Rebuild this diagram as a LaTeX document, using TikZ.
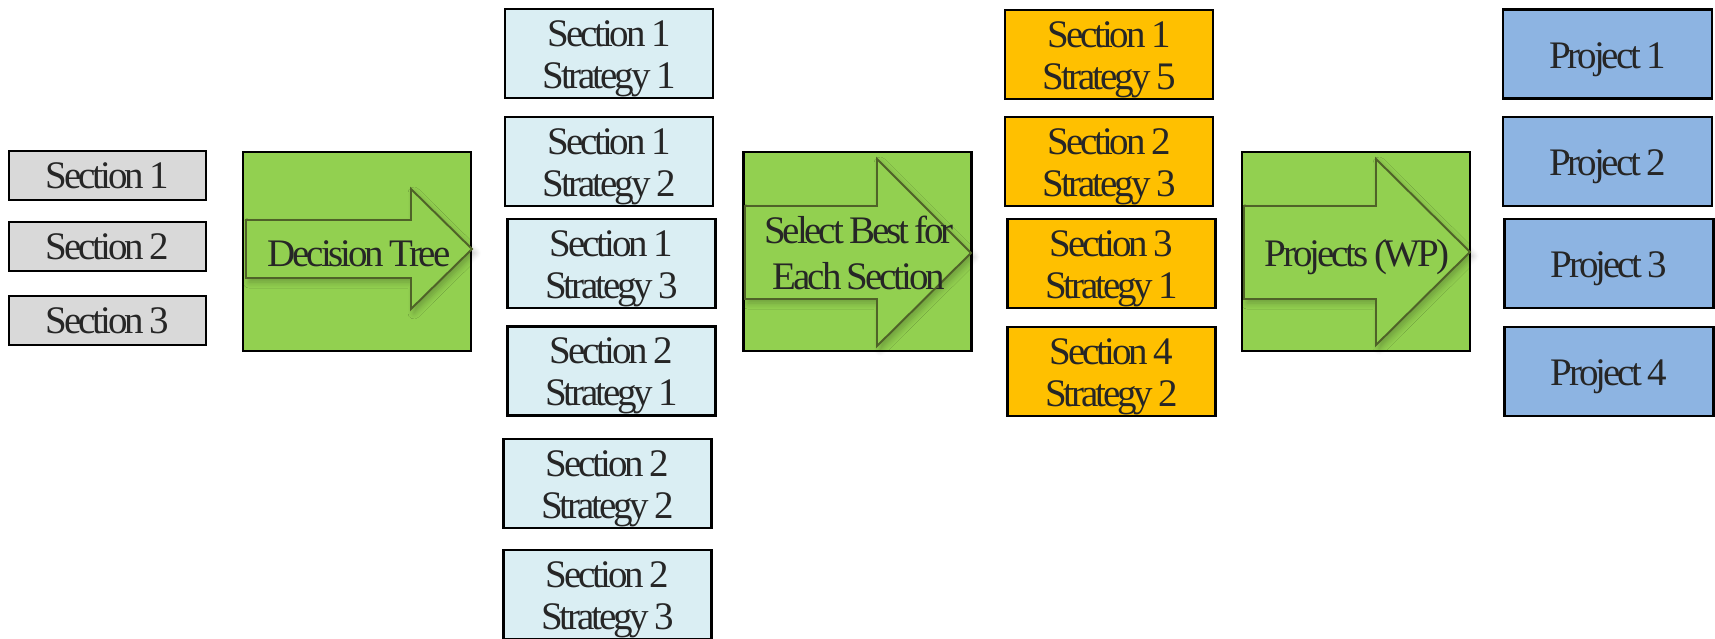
\documentclass[tikz,border=0pt]{standalone}
\usepackage{fontspec}
\setmainfont{Liberation Serif}[LetterSpace=-8, WordSpace=0.8]
\usepackage{tikz}
\usetikzlibrary{shadows.blur}

\definecolor{secgray}{HTML}{D9D9D9}
\definecolor{stratblue}{HTML}{DAEEF3}
\definecolor{bestorange}{HTML}{FFC000}
\definecolor{projblue}{HTML}{8DB4E2}
\definecolor{stepgreen}{HTML}{92D050}
\definecolor{arrowdark}{HTML}{4F6228}
\definecolor{inkgray}{HTML}{262626}

\newcommand{\twoline}[2]{\rule{0pt}{0.36cm}#1\\#2}

\begin{document}
\begin{tikzpicture}[
    font=\fontsize{11.1}{12}\selectfont, text=inkgray,
    box/.style={draw=black, line width=0.6pt, inner sep=0pt, align=center},
    secbox/.style={box, fill=secgray, minimum width=1.97cm, minimum height=0.49cm},
    stratbox/.style={box, fill=stratblue, minimum width=2.08cm, minimum height=0.89cm},
    bestbox/.style={box, fill=bestorange, minimum width=2.08cm, minimum height=0.89cm},
    projbox/.style={box, fill=projblue, minimum width=2.09cm, minimum height=0.89cm,
        text height=0.28cm, text depth=0pt},
    greenbox/.style={box, fill=stepgreen, minimum width=2.28cm, minimum height=1.99cm},
    barrow/.style={fill=stepgreen, draw=arrowdark, line width=0.55pt, line join=miter,
        blur shadow={shadow xshift=0.3mm, shadow yshift=-0.4mm, shadow blur steps=6,
        shadow blur radius=0.6mm, shadow opacity=25}}
]
        \useasboundingbox (0, 0) rectangle (17.15, -6.38);

        % input sections
        \draw (1.075, -1.755) node[secbox] (sec1) {Section 1};
        \draw (1.075, -2.465) node[secbox] (sec2) {Section 2};
        \draw (1.075, -3.205) node[secbox] (sec3) {Section 3};

        % decision tree
        \draw (3.57, -2.515) node[greenbox] (dt) {};
        \draw[barrow] (2.46, -2.20) -- (4.11, -2.20) -- (4.11, -1.89) -- (4.72, -2.49)
            -- (4.11, -3.09) -- (4.11, -2.78) -- (2.46, -2.78) -- cycle;
        \draw (3.59, -2.535) node (dttext) {Decision Tree};

        % candidate strategies
        \draw (6.09, -0.535) node[stratbox] (s11) {\twoline{Section 1}{Strategy 1}};
        \draw (6.09, -1.615) node[stratbox] (s12) {\twoline{Section 1}{Strategy 2}};
        \draw (6.115, -2.635) node[stratbox] (s13) {\twoline{Section 1}{Strategy 3}};
        \draw (6.115, -3.71) node[stratbox] (s21) {\twoline{Section 2}{Strategy 1}};
        \draw (6.075, -4.835) node[stratbox] (s22) {\twoline{Section 2}{Strategy 2}};
        \draw (6.075, -5.945) node[stratbox] (s23) {\twoline{Section 2}{Strategy 3}};

        % select best
        \draw (8.575, -2.515) node[greenbox] (sel) {};
        \draw[barrow] (7.45, -2.06) -- (8.77, -2.06) -- (8.77, -1.59) -- (9.71, -2.53)
            -- (8.77, -3.46) -- (8.77, -2.99) -- (7.45, -2.99) -- cycle;
        \draw (8.59, -2.53) node[align=center, font=\fontsize{11.1}{13.1}\selectfont] (seltext)
            {Select Best for\\Each Section};

        % best strategies
        \draw (11.09, -0.545) node[bestbox] (b1) {\twoline{Section 1}{Strategy 5}};
        \draw (11.09, -1.615) node[bestbox] (b2) {\twoline{Section 2}{Strategy 3}};
        \draw (11.115, -2.635) node[bestbox] (b3) {\twoline{Section 3}{Strategy 1}};
        \draw (11.115, -3.715) node[bestbox] (b4) {\twoline{Section 4}{Strategy 2}};

        % work program
        \draw (13.56, -2.515) node[greenbox] (wp) {};
        \draw[barrow] (12.44, -2.06) -- (13.76, -2.06) -- (13.76, -1.59) -- (14.70, -2.52)
            -- (13.76, -3.45) -- (13.76, -2.99) -- (12.44, -2.99) -- cycle;
        \draw (13.57, -2.53) node[text depth=0pt] (wptext) {Projects (WP)};

        % projects
        \draw (16.075, -0.54) node[projbox] (p1) {Project 1};
        \draw (16.075, -1.615) node[projbox] (p2) {Project 2};
        \draw (16.09, -2.635) node[projbox] (p3) {Project 3};
        \draw (16.09, -3.715) node[projbox] (p4) {Project 4};
\end{tikzpicture}
\end{document}
